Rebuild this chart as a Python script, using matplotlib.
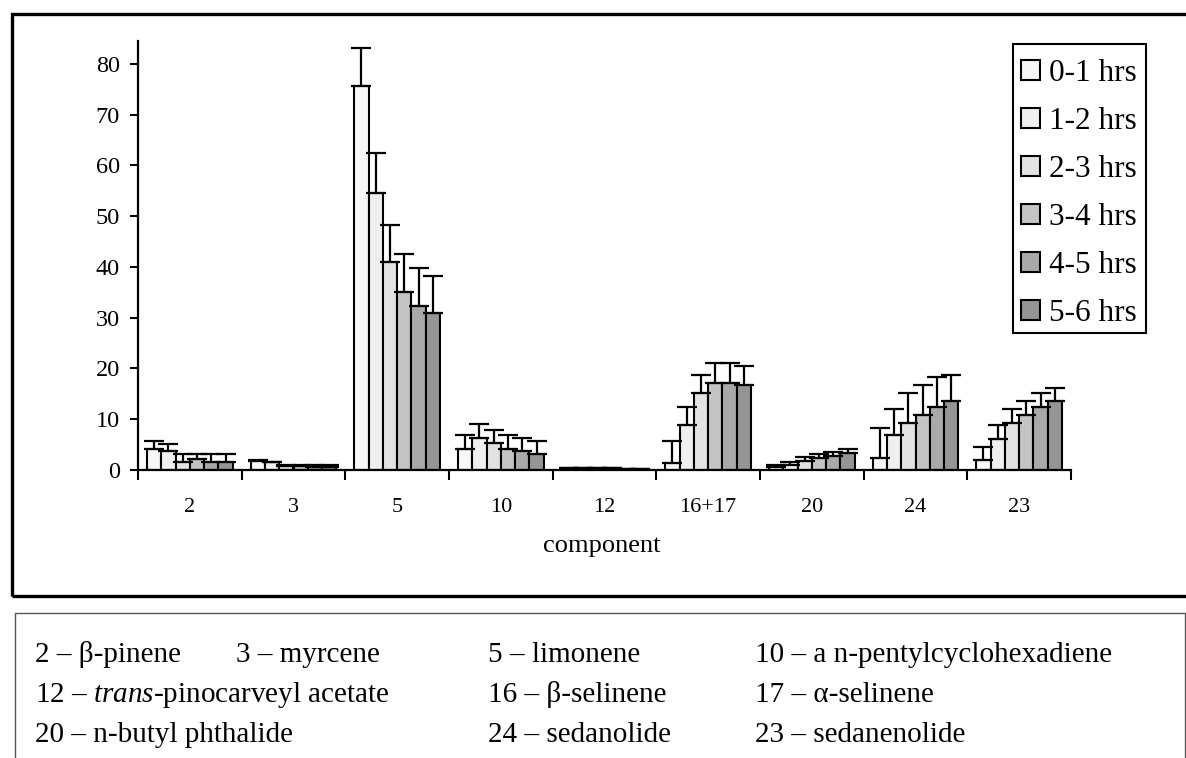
import numpy as np
import matplotlib
matplotlib.use("Agg")
import matplotlib.pyplot as plt
from matplotlib.patches import Rectangle

plt.rcParams['font.family'] = ['Liberation Serif', 'DejaVu Serif']
plt.rcParams['mathtext.fontset'] = 'custom'
plt.rcParams['mathtext.rm'] = 'Liberation Serif'
plt.rcParams['mathtext.it'] = 'Liberation Serif:italic'

# Components on the x axis
components = ['2', '3', '5', '10', '12', '16+17', '20', '24', '23']

# Collection periods
periods = ['0-1 hrs', '1-2 hrs', '2-3 hrs', '3-4 hrs', '4-5 hrs', '5-6 hrs']

# Mean amounts per period (one list per period, ordered as components)
mean_0_1 = [4.1, 1.7, 75.6, 4.1, 0.3, 1.4, 0.5, 2.4, 2.0]
mean_1_2 = [3.7, 1.5, 54.6, 6.3, 0.3, 8.8, 0.9, 6.8, 6.1]
mean_2_3 = [1.5, 0.8, 40.9, 5.3, 0.3, 15.1, 1.8, 9.3, 9.3]
mean_3_4 = [2.1, 0.7, 35.1, 4.2, 0.3, 17.2, 2.3, 10.9, 10.9]
mean_4_5 = [1.5, 0.5, 32.4, 3.7, 0.2, 17.2, 2.8, 12.5, 12.5]
mean_5_6 = [1.6, 0.5, 30.9, 3.1, 0.1, 16.7, 3.4, 13.5, 13.6]

# Standard deviations (upper error bars)
sd_0_1 = [1.7, 0.3, 7.5, 2.8, 0.0, 4.3, 0.5, 5.9, 2.6]
sd_1_2 = [1.5, 0.1, 7.9, 2.8, 0.0, 3.7, 0.6, 5.2, 2.7]
sd_2_3 = [1.7, 0.2, 7.4, 2.6, 0.0, 3.7, 0.8, 5.8, 2.7]
sd_3_4 = [1.1, 0.3, 7.5, 2.6, 0.0, 3.8, 0.9, 5.9, 2.7]
sd_4_5 = [1.7, 0.5, 7.3, 2.6, 0.0, 3.8, 0.8, 5.9, 2.6]
sd_5_6 = [1.6, 0.5, 7.3, 2.6, 0.0, 3.7, 0.7, 5.3, 2.5]

y_ticks = [0, 10, 20, 30, 40, 50, 60, 70, 80]

# Key of component names shown under the chart
key_rows = [
    [('2 – β-pinene', 35), ('3 – myrcene', 236), ('5 – limonene', 488),
     ('10 – a n-pentylcyclohexadiene', 755)],
    [('12 – $\\mathit{trans}$-pinocarveyl acetate', 35), ('16 – β-selinene', 488),
     ('17 – α-selinene', 755)],
    [('20 – n-butyl phthalide', 35), ('24 – sedanolide', 488),
     ('23 – sedanenolide', 755)],
]

means = [mean_0_1, mean_1_2, mean_2_3, mean_3_4, mean_4_5, mean_5_6]
sds = [sd_0_1, sd_1_2, sd_2_3, sd_3_4, sd_4_5, sd_5_6]
fills = ['#f7f7f7', '#efefef', '#e2e2e2', '#c4c4c4', '#a9a9a9', '#959595']

W, H = 1186, 758
fig = plt.figure(figsize=(W / 100, H / 100), dpi=100)

# Frames around chart and key
fig.add_artist(Rectangle((12 / W, 1 - 596 / H), (W + 20 - 12) / W, (596 - 14) / H,
                         transform=fig.transFigure, fill=False, lw=2.4,
                         edgecolor='black', clip_on=False))
fig.add_artist(Rectangle((15 / W, 1 - (H + 20) / H), (1185 - 15) / W, (H + 20 - 613) / H,
                         transform=fig.transFigure, fill=False, lw=1.0,
                         edgecolor='#555555', clip_on=False))

ax = fig.add_axes([138 / W, 1 - 470 / H, (1071 - 138) / W, (470 - 41) / H])

x = np.arange(len(components))
bw = 0.138
n = len(periods)
for j in range(n):
    xs = x + (j - (n - 1) / 2) * bw
    ax.bar(xs, means[j], width=bw, color=fills[j], edgecolor='black',
           linewidth=1.5, label=periods[j], zorder=2)
    ax.errorbar(xs, means[j], yerr=[np.zeros(len(x)), sds[j]], fmt='none',
                ecolor='black', elinewidth=1.6, capsize=7, capthick=1.6, zorder=3)

ax.set_xlim(-0.5, len(components) - 0.5)
ax.set_ylim(0, 84.5)
ax.set_yticks(y_ticks)
ax.tick_params(axis='y', labelsize=17.5, length=6, width=1.5, pad=7, direction='out')

ax.set_xticks(np.arange(len(components) + 1) - 0.5)
ax.set_xticklabels([])
ax.set_xticks(x, minor=True)
ax.set_xticklabels(components, minor=True)
ax.tick_params(axis='x', which='major', length=7, width=1.5, direction='out')
ax.tick_params(axis='x', which='minor', length=0, labelsize=16, pad=20)

for s in ['top', 'right']:
    ax.spines[s].set_visible(False)
for s in ['left', 'bottom']:
    ax.spines[s].set_linewidth(1.6)

fig.text(602 / W, 1 - 552 / H, 'component', fontsize=19, ha='center', va='baseline')

# Legend entries, with a separately drawn frame
leg = ax.legend(loc='upper right', bbox_to_anchor=(1152 / W, 1 - 44 / H),
                bbox_transform=fig.transFigure, fontsize=22.5, frameon=False,
                handlelength=0.6, handleheight=0.6, handletextpad=0.3,
                labelspacing=0.61, borderpad=0.48, borderaxespad=0)
fig.add_artist(Rectangle((1013 / W, 1 - 333 / H), (1146 - 1013) / W, (333 - 44) / H,
                         transform=fig.transFigure, fill=False, lw=1.5,
                         edgecolor='black'))

baselines = [662, 702, 742]
for row, yb in zip(key_rows, baselines):
    for txt, xp in row:
        fig.text(xp / W, 1 - yb / H, txt, fontsize=21, ha='left', va='baseline')

fig.savefig('out.png', dpi=100)
